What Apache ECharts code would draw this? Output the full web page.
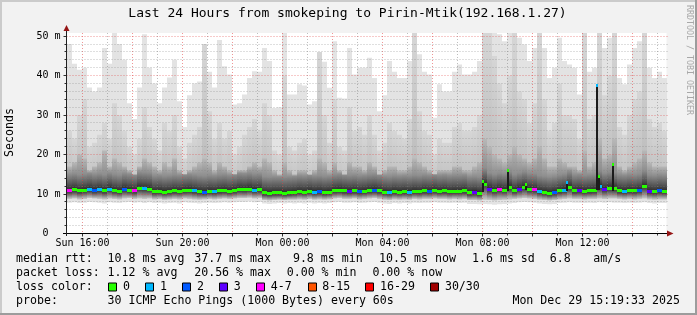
<!DOCTYPE html>
<html><head><meta charset="utf-8">
<script src="https://cdn.jsdelivr.net/npm/echarts@6/dist/echarts.min.js"></script>
<style>html,body{margin:0;padding:0;background:#f2f2f2}#c{width:697px;height:315px}</style>
</head><body><div id="c"></div>
<script>
// ---- time frame (minutes since Sun 00:00) ----
const startMinute = 921.6;      // Sun 15:21:36
const stepMinutes = 12;         // one smoke column
const endMinute = 2361.6;       // Mon 15:21:36

// ---- smoke envelope per column (ms) ----
const smokeMax = [48,43,41.5,42,37,36,37,47,43,50.8,48,44,33,29,37,50.5,42,38,33,37,39.5,44,33.5,27,35,38,38.5,40,41,37,
 49,42.4,40.3,32.7,33,35.2,39.4,41.1,41,47,43.7,31.8,32,50.8,35.2,35.2,37.8,37.5,32.7,33.5,43.7,43.5,36.9,48.7,34.4,34.2,47,40.3,42,42,
 44.5,39.4,31,35,43.7,41,39.4,39.4,43.7,50.8,45.4,41,40.3,29.3,37.8,36,36,41,42.8,40.3,40.3,41,43.7,50.8,50.8,50.8,50.5,48.7,50.8,50.8,
 49.6,47.9,43.7,47,50.8,47,39.4,42,49.6,43.7,42.8,42,35.2,50.8,41,42,50.8,47,49.6,50.8,39.4,37.8,42.8,47,48.7,50.8,42,39.4,41,39.4];
const smokeHi = [26,24,30,34,22,23,25,28,24,33,30,26,22,20,24,32,27,24,21,28,26,30,22,19,23,25,27,48,31,24,
 28,24,26,20,22,25,27,29,26,33,30,21,20,40,22,21,23,24,20,21,46,30,23,34,22,21,32,26,27,25,
 30,25,21,23,28,26,25,24,29,50.8,31,26,25,20,24,23,23,27,28,26,26,27,30,50.8,50.8,45,38,33,40,50.8,
 36,34,28,33,50.8,34,26,28,38,30,30,29,24,50.8,29,30,50.8,35,40,50.8,27,25,30,34,36,50.8,29,27,28,26];
const smokeDark = [17,18,20,19,16,17,18,21,17,19,18,17,16,15,17,19,18,17,16,18,17,19,16,15,16,17,18,19,18,16,
 18,17,16,15,16,16,17,18,17,19,18,16,15,18,16,15,16,16,15,16,19,18,16,18,16,15,18,17,17,16,
 18,17,15,16,17,17,16,16,17,19,18,17,16,15,16,16,16,17,17,16,16,17,18,24,22,20,19,18,20,22,
 20,19,18,19,22,19,17,17,19,18,17,17,16,21,17,18,24,19,20,24,17,16,17,18,19,21,18,17,17,17];
const median = [11.0,11.2,10.9,11.1,11.3,11.0,11.2,10.9,11.4,11.0,10.8,11.3,11.1,10.9,11.6,11.5,11.4,10.7,10.8,10.6,10.7,10.9,10.8,11.0,11.1,10.9,10.7,10.6,10.8,10.7,
 10.9,11.0,10.8,11.0,11.3,11.2,11.4,11.1,11.2,10.4,10.3,10.4,10.4,10.3,10.4,10.5,10.7,10.6,10.8,10.6,10.7,10.5,10.6,11.0,11.1,10.9,10.8,10.9,10.7,10.8,
 11.0,11.1,10.9,10.6,10.5,10.7,10.6,10.7,10.6,10.8,10.7,10.9,10.8,11.0,10.8,10.9,10.7,10.8,10.8,10.9,10.4,10.5,10.3,12.6,11.4,11.0,11.3,11.1,11.8,11.0,
 11.4,11.8,11.3,11.2,10.7,10.5,10.3,10.5,10.9,11.1,11.8,10.9,11.0,10.8,10.9,11.0,12.0,11.3,11.6,11.5,10.9,10.8,11.0,10.9,11.1,12.0,10.8,10.7,10.9,10.8];
const smokeLow = [8.8,8.9,8.7,8.8,9.0,8.9,8.8,8.7,8.9,8.8,8.7,8.9,9.0,8.8,8.9,8.8,8.9,8.7,8.8,8.6,8.7,8.8,8.7,8.9,8.8,8.7,8.6,8.7,8.8,8.7,
 8.8,8.9,8.8,8.9,9.0,9.0,9.1,8.9,9.0,8.5,8.4,8.5,8.6,8.5,8.6,8.6,8.7,8.6,8.8,8.6,8.7,8.6,8.7,8.9,9.0,8.8,8.8,8.9,8.7,8.8,
 8.9,9.0,8.8,8.6,8.5,8.7,8.6,8.7,8.6,8.8,8.7,8.8,8.8,8.9,8.8,8.8,8.7,8.8,8.7,8.8,8.5,8.5,8.4,8.6,8.5,8.4,8.5,8.6,8.7,8.8,
 8.9,9.0,8.9,8.8,8.6,8.5,8.4,8.5,8.7,8.8,8.9,8.8,8.8,8.7,8.8,8.8,8.9,8.8,8.9,8.9,8.8,8.7,8.8,8.7,8.8,8.9,8.7,8.6,8.7,8.7];
const smokeMin = [7.8,7.9,7.7,7.8,8.0,7.9,7.8,7.6,7.9,7.8,7.7,7.9,8.0,7.8,7.9,7.7,7.9,7.7,7.8,7.6,7.7,7.8,7.6,7.9,7.8,7.7,7.6,7.7,7.8,7.7,
 7.8,7.9,7.8,7.9,8.0,8.0,8.1,7.9,8.0,7.6,7.5,7.6,7.7,7.6,7.7,7.6,7.7,7.6,7.8,7.6,7.7,7.6,7.7,7.9,8.0,7.8,7.8,7.9,7.7,7.8,
 7.9,8.0,7.8,7.6,7.5,7.7,7.6,7.7,7.6,7.8,7.7,7.8,7.8,7.9,7.8,7.8,7.7,7.8,7.7,7.8,7.5,7.5,7.4,7.5,7.4,7.3,7.4,7.5,7.6,7.7,
 7.9,8.0,7.9,7.8,7.6,7.5,7.4,7.5,7.7,7.8,7.9,7.8,7.8,7.7,7.8,7.7,7.9,7.8,7.9,7.8,7.8,7.7,7.8,7.7,7.8,7.9,7.7,7.6,7.7,7.7];
const lossIdx = [4,0,0,0,1,2,1,0,1,0,0,2,0,4,0,1,0,0,0,0,0,0,0,0,0,1,0,2,0,1,
 0,0,0,0,0,0,0,1,0,0,0,0,0,0,0,0,0,0,0,1,2,0,0,0,0,0,3,0,2,0,
 0,2,0,0,1,0,0,0,1,0,0,0,2,0,0,0,0,0,0,0,0,3,0,0,3,0,4,0,0,0,
 3,0,0,4,1,0,0,2,0,1,0,0,3,0,0,0,1,3,0,0,0,1,0,0,2,0,3,0,2,0];

// ---- isolated median spikes ----
const spikeMinutes = [1920, 1981.2, 2024.4, 2122.8, 2193.6, 2199.6, 2232];
const spikeValues  = [13.4, 16.1, 12.5, 13.0, 37.7, 14.5, 17.7];
const spikeBase    = [10.5, 10.8, 11.0, 10.8, 11.0, 11.0, 10.8];
const spikeLoss    = [0, 0, 0, 1, 1, 0, 0];

// ---- legend / labels ----
const lossColors = ['#26ff00','#00b8ff','#0059ff','#5e00ff','#ff00ff','#ff5500','#ff0000','#a10000'];
const lossLabels = ['0','1','2','3','4-7','8-15','16-29','30/30'];
const xTickLabels = ['Sun 16:00','Sun 20:00','Mon 00:00','Mon 04:00','Mon 08:00','Mon 12:00'];
const xTickMinutes = [960, 1200, 1440, 1680, 1920, 2160];
const yMax = 50.8;

const smokeData = smokeMax.map((mx, i) => [startMinute + i*stepMinutes, startMinute + (i+1)*stepMinutes,
  smokeMin[i], smokeLow[i], smokeDark[i], smokeHi[i], mx, median[i]]);
const medianData = median.map((m, i) => [startMinute + i*stepMinutes, startMinute + (i+1)*stepMinutes, m, lossIdx[i]]);
const spikeData = spikeMinutes.map((t, i) => [t, spikeBase[i], spikeValues[i], spikeLoss[i]]);
const gridData = [];
for (let m = 960; m <= 2340; m += 60) gridData.push([0, m, ((m/60) % 2 === 0) ? 1 : 0]);
for (let v = 2; v <= 50; v += 2) gridData.push([1, v, (v % 10 === 0) ? 1 : 0]);

const MONO = '"DejaVu Sans Mono", monospace';

function renderSmoke(params, api) {
  const t0 = api.value(0), t1 = api.value(1);
  const mn = api.value(2), lo = api.value(3), dk = api.value(4), hi = api.value(5), mx = api.value(6), md = api.value(7);
  const xa = Math.round(api.coord([t0, 0])[0]), xb = Math.round(api.coord([t1, 0])[0]);
  const w = xb - xa;
  const Y = v => api.coord([t0, v])[1];
  const rect = (v0, v1, fill) => ({ type: 'rect', shape: { x: xa, y: Y(v1), width: w, height: Y(v0) - Y(v1) }, style: { fill } });
  const span = dk - lo;
  const off = v => Math.min(1, Math.max(0, (dk - v) / span));
  const core = new echarts.graphic.LinearGradient(0, 0, 0, 1, [
    { offset: 0, color: '#b8b8b8' },
    { offset: off(md + 4), color: '#8e8e8e' },
    { offset: off(md + 1.6), color: '#585858' },
    { offset: off(md + 0.3), color: '#343434' },
    { offset: off(md - 0.7), color: '#4c4c4c' },
    { offset: 1, color: '#c6c6c6' }
  ]);
  const mid = new echarts.graphic.LinearGradient(0, 0, 0, 1, [
    { offset: 0, color: '#d6d6d6' },
    { offset: 1, color: '#b6b6b6' }
  ]);
  return { type: 'group', children: [rect(mn, mx, '#e3e3e3'), rect(lo, hi, mid), rect(lo, dk, core)] };
}

function renderMedian(params, api) {
  const xa = Math.round(api.coord([api.value(0), 0])[0]), xb = Math.round(api.coord([api.value(1), 0])[0]);
  const yc = Math.round(api.coord([api.value(0), api.value(2)])[1]);
  return { type: 'rect', shape: { x: xa, y: yc - 1, width: xb - xa, height: 3 }, style: { fill: lossColors[api.value(3)] } };
}

function renderSpike(params, api) {
  const x = Math.round(api.coord([api.value(0), 0])[0]);
  const yb = Math.round(api.coord([api.value(0), api.value(1)])[1]);
  const yt = Math.round(api.coord([api.value(0), api.value(2)])[1]);
  return { type: 'group', children: [
    { type: 'rect', shape: { x: x - 1, y: yt, width: 2, height: yb - yt }, style: { fill: '#1c1c1c' } },
    { type: 'rect', shape: { x: x - 1, y: yt - 1, width: 2, height: 3 }, style: { fill: lossColors[api.value(3)] } }
  ] };
}

function renderGrid(params, api) {
  const cs = params.coordSys;
  const kind = api.value(0), v = api.value(1), major = api.value(2);
  const color = major ? 'rgba(226,64,64,0.55)' : 'rgba(128,128,128,0.5)';
  if (kind === 0) {
    const x = Math.floor(api.coord([v, 0])[0]) + 0.5;
    const yb = cs.y + cs.height;
    return { type: 'group', children: [
      { type: 'line', shape: { x1: x, y1: cs.y, x2: x, y2: yb }, style: { stroke: color, lineWidth: 1, lineDash: [1, 2] } },
      { type: 'line', shape: { x1: x, y1: yb, x2: x, y2: yb + (major ? 3 : 2) }, style: { stroke: '#303030', lineWidth: 1 } }
    ] };
  }
  const y = Math.floor(api.coord([startMinute, v])[1]) + 0.5;
  return { type: 'group', children: [
    { type: 'line', shape: { x1: cs.x, y1: y, x2: cs.x + cs.width + 2, y2: y }, style: { stroke: color, lineWidth: 1, lineDash: [1, 2] } },
    { type: 'line', shape: { x1: cs.x - (major ? 3 : 2), y1: y, x2: cs.x, y2: y }, style: { stroke: '#303030', lineWidth: 1 } }
  ] };
}

function renderXLabel(params, api) {
  const cs = params.coordSys;
  const x = api.coord([api.value(0), 0])[0];
  return { type: 'text', x: x, y: cs.y + cs.height + 9.5,
    style: { text: xTickLabels[params.dataIndex], align: 'center', verticalAlign: 'middle', font: '10px ' + MONO, fill: '#000' } };
}

const chart = echarts.init(document.getElementById('c'), null, { renderer: 'canvas' });

const graphics = [
  { type: 'rect', shape: { x: 0, y: 0, width: 697, height: 2 }, style: { fill: '#cbcbcb' }, z: 100 },
  { type: 'rect', shape: { x: 0, y: 0, width: 2, height: 315 }, style: { fill: '#cbcbcb' }, z: 100 },
  { type: 'rect', shape: { x: 0, y: 313, width: 697, height: 2 }, style: { fill: '#9c9c9c' }, z: 100 },
  { type: 'rect', shape: { x: 695, y: 0, width: 2, height: 315 }, style: { fill: '#9c9c9c' }, z: 100 },
  // axes
  { type: 'line', shape: { x1: 63, y1: 233.5, x2: 670, y2: 233.5 }, style: { stroke: '#000', lineWidth: 1 }, z: 100 },
  { type: 'line', shape: { x1: 66.5, y1: 236, x2: 66.5, y2: 30 }, style: { stroke: '#202020', lineWidth: 1 }, z: 100 },
  { type: 'polygon', shape: { points: [[667, 230.5], [673.5, 233.5], [667, 236.5]] }, style: { fill: '#951515' }, z: 101 },
  { type: 'polygon', shape: { points: [[63.5, 31], [66.5, 25], [69.5, 31]] }, style: { fill: '#951515' }, z: 101 },
  // texts
  { type: 'text', x: 347.5, y: 14, style: { text: 'Last 24 Hours from smokeping to Pirin-Mtik(192.168.1.27)', align: 'center', verticalAlign: 'middle', font: '13px ' + MONO, fill: '#000' }, z: 100 },
  { type: 'text', x: 10, y: 132.5, rotation: Math.PI / 2, style: { text: 'Seconds', align: 'center', verticalAlign: 'middle', font: '11.6px ' + MONO, fill: '#000' }, z: 100 },
  { type: 'text', x: 689, y: 60, rotation: -Math.PI / 2, style: { text: 'RRDTOOL / TOBI OETIKER', align: 'center', verticalAlign: 'middle', font: '8.3px ' + MONO, fill: '#a8a8a8' }, z: 100 }
];
const LF = '11.6px ' + MONO;
const legendRows = [
  [259.3, [[16, 'median rtt:'], [107.6, '10.8 ms avg'], [194.2, '37.7 ms max'], [292.9, '9.8 ms min'], [379.1, '10.5 ms now'], [472, '1.6 ms sd'], [549.8, '6.8'], [593.3, 'am/s']]],
  [273.3, [[16, 'packet loss:'], [107.6, '1.12 % avg'], [194.2, '20.56 % max'], [286.7, '0.00 % min'], [372.4, '0.00 % now']]],
  [287.3, [[16, 'loss color:']]],
  [301.3, [[16, 'probe:'], [107.6, '30 ICMP Echo Pings (1000 Bytes) every 60s'], [512.4, 'Mon Dec 29 15:19:33 2025']]]
];
legendRows.forEach(([y, items]) => items.forEach(([x, t]) => graphics.push(
  { type: 'text', x: x, y: y, style: { text: t, align: 'left', verticalAlign: 'middle', font: LF, fill: '#000' }, z: 100 })));
const boxX = [108, 145.3, 182.2, 219.1, 256.4, 307.6, 365.3, 430.2];
const boxLabelX = [123, 160, 196.9, 233.8, 270.7, 322.2, 380, 444.9];
lossColors.forEach((c, i) => {
  graphics.push({ type: 'rect', shape: { x: Math.round(boxX[i]) + 0.5, y: 283, width: 8, height: 8 }, style: { fill: c, stroke: '#000', lineWidth: 1 }, z: 100 });
  graphics.push({ type: 'text', x: boxLabelX[i], y: 287.3, style: { text: lossLabels[i], align: 'left', verticalAlign: 'middle', font: LF, fill: '#000' }, z: 100 });
});

chart.setOption({
  animation: false,
  backgroundColor: '#f2f2f2',
  grid: { left: 66.5, top: 33, width: 600, height: 200.5, show: true, backgroundColor: '#ffffff', borderWidth: 0 },
  xAxis: { type: 'value', min: startMinute, max: endMinute, show: false },
  yAxis: {
    type: 'value', min: 0, max: yMax, interval: 10,
    axisLine: { show: false }, axisTick: { show: false }, splitLine: { show: false },
    axisLabel: { margin: 6, color: '#000', fontFamily: 'DejaVu Sans Mono', fontSize: 10,
      formatter: v => (v % 10 !== 0 ? '' : (v === 0 ? '0  ' : v + ' m')) }
  },
  series: [
    { type: 'custom', renderItem: renderSmoke, data: smokeData, z: 2, clip: true, silent: true },
    { type: 'custom', renderItem: renderGrid, data: gridData, z: 3, silent: true },
    { type: 'custom', renderItem: renderMedian, data: medianData, z: 4, silent: true },
    { type: 'custom', renderItem: renderSpike, data: spikeData, z: 5, silent: true },
    { type: 'custom', renderItem: renderXLabel, data: xTickMinutes.map(m => [m]), z: 5, silent: true }
  ],
  graphic: graphics
});
</script></body></html>
